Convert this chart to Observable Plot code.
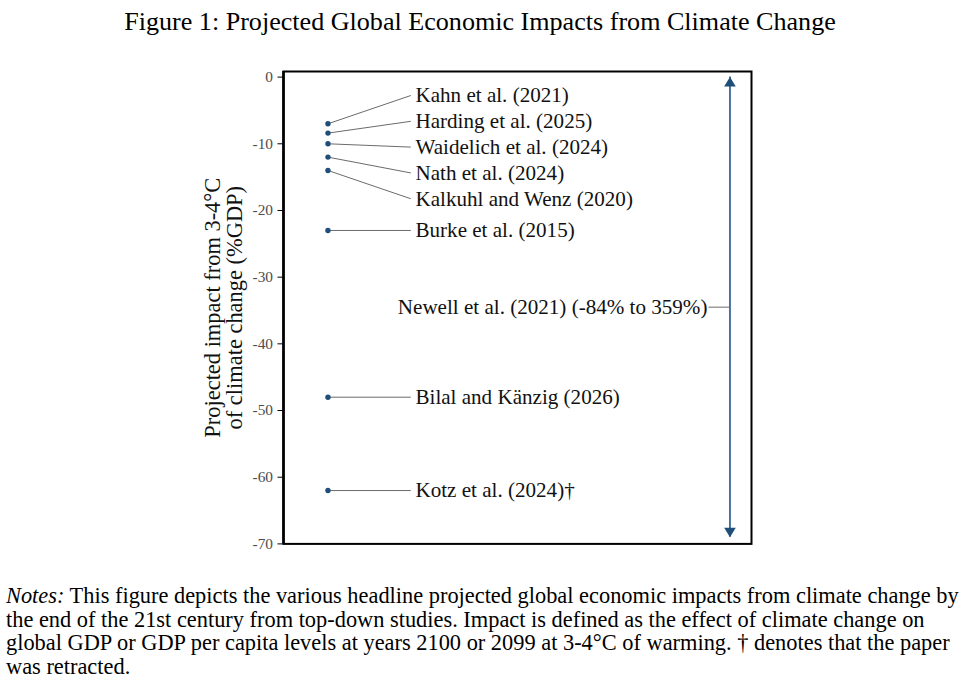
<!DOCTYPE html>
<html>
<head>
<meta charset="utf-8">
<script src="https://cdn.jsdelivr.net/npm/d3@7"></script>
<script src="https://cdn.jsdelivr.net/npm/@observablehq/plot@0.6"></script>
<style>
  html, body { margin: 0; padding: 0; background: #fff; }
  body { width: 960px; height: 691px; position: relative; overflow: hidden;
         font-family: "Liberation Serif", serif; color: #000; }
  #title { position: absolute; left: 0; width: 960px; top: 7px; line-height: 30px;
           text-align: center; white-space: nowrap; }
  #chart { position: absolute; left: 0; top: 50px; }
  #notes { position: absolute; left: 6px; top: 584px; line-height: 23.5px; white-space: nowrap; }
  #notes div { height: 23.5px; }
</style>
</head>
<body>
<div id="title"></div>
<div id="chart"></div>
<div id="notes"></div>
<script>
// ---- data ---------------------------------------------------------------
const titleText = "Figure 1: Projected Global Economic Impacts from Climate Change";

const studies = [
  "Kahn et al. (2021)",
  "Harding et al. (2025)",
  "Waidelich et al. (2024)",
  "Nath et al. (2024)",
  "Kalkuhl and Wenz (2020)",
  "Burke et al. (2015)",
  "Bilal and Känzig (2026)",
  "Kotz et al. (2024)†"
];
const impacts = [-7, -8.4, -10, -12, -14, -23, -48, -62];

const rangeStudy = "Newell et al. (2021)";
const rangeLow = -84;
const rangeHigh = 359;

const yTicks = [0, -10, -20, -30, -40, -50, -60, -70];
const yTitle = ["Projected impact from 3-4°C", "of climate change (%GDP)"];

const notesLead = "Notes:";
const notesLines = [
  " This figure depicts the various headline projected global economic impacts from climate change by",
  "the end of the 21st century from top-down studies. Impact is defined as the effect of climate change on",
  "global GDP or GDP per capita levels at years 2100 or 2099 at 3-4°C of warming. † denotes that the paper",
  "was retracted."
];

// ---- helpers ------------------------------------------------------------
const FONT = '"Liberation Serif", serif';
const measureCtx = document.createElement("canvas").getContext("2d");
function fitSize(text, targetWidth, style = "") {
  measureCtx.font = `${style} 100px "Liberation Serif"`;
  return targetWidth * 100 / measureCtx.measureText(text).width;
}

// font sizes chosen so the text occupies the intended widths
const titleSize = fitSize(titleText, 712);
const labelSize = fitSize("Kalkuhl and Wenz (2020)", 218);
const axisTitleSize = fitSize(yTitle[0], 260);
const tickSize = fitSize("-10", 20.5);
const notesSize = fitSize(notesLines[2], 946);

// simple label de-overlap: merge neighbouring labels into evenly spaced groups
function spreadLabels(values, gap) {
  const order = values.map((v, i) => i).sort((a, b) => values[b] - values[a]);
  let groups = order.map(i => ({members: [i]}));
  const center = g => {
    const vs = g.members.map(i => values[i]);
    return (Math.max(...vs) + Math.min(...vs)) / 2;
  };
  let merged = true;
  while (merged) {
    merged = false;
    for (let k = 0; k < groups.length - 1; k++) {
      const a = groups[k], b = groups[k + 1];
      const aLow = center(a) - (a.members.length - 1) / 2 * gap;
      const bHigh = center(b) + (b.members.length - 1) / 2 * gap;
      if (aLow - bHigh < gap) {
        groups.splice(k, 2, {members: a.members.concat(b.members)});
        merged = true;
        break;
      }
    }
  }
  const out = new Array(values.length);
  for (const g of groups) {
    const c = center(g), n = g.members.length;
    g.members.forEach((i, j) => { out[i] = c + ((n - 1) / 2 - j) * gap; });
  }
  return out;
}

// ---- layout in data units -----------------------------------------------
const Y_DOMAIN = [-70, 0.84];
const X_DOMAIN = [0, 10];
const X_POINT = 0.95;
const X_LINK_END = 2.72;
const X_LABEL = 2.82;
const X_ARROW = 9.54;
const X_RANGE_LINK = 9.08;
const LABEL_GAP = 3.87;

const labelY = spreadLabels(impacts, LABEL_GAP);
const rows = studies.map((s, i) => ({study: s, impact: impacts[i], labelY: labelY[i]}));

const arrowTop = Math.min(rangeHigh, 0);
const arrowBottom = Math.max(rangeLow, Y_DOMAIN[0] + 1);
const rangeRow = {
  label: `${rangeStudy} (${rangeLow}% to ${rangeHigh}%)`,
  top: arrowTop,
  bottom: arrowBottom,
  mid: (arrowTop + arrowBottom) / 2
};

// filled arrowheads with the tip at the anchor point
const headUp = {
  draw(context, size) {
    const k = Math.sqrt(size / Math.PI);
    context.moveTo(0, 0); context.lineTo(-1.35 * k, 2.2 * k); context.lineTo(1.35 * k, 2.2 * k); context.closePath();
  }
};
const headDown = {
  draw(context, size) {
    const k = Math.sqrt(size / Math.PI);
    context.moveTo(0, 0); context.lineTo(-1.35 * k, -2.2 * k); context.lineTo(1.35 * k, -2.2 * k); context.closePath();
  }
};

const BLUE = "#1f4e79";
const ARROW_BLUE = "#2d5f92";
const TEXT = "#111";
const TICK_TEXT = "#4d4d4d";

// ---- chart --------------------------------------------------------------
const chart = Plot.plot({
  width: 960,
  height: 520,
  marginLeft: 283,
  marginRight: 209,
  marginTop: 21,
  marginBottom: 26.6,
  style: {fontFamily: FONT, color: "#000", background: "transparent", overflow: "visible"},
  x: {domain: X_DOMAIN, axis: null},
  // tick marks come from the axis; their labels are drawn by a text mark below
  y: {domain: Y_DOMAIN, ticks: yTicks, tickFormat: () => "", tickSize: 5.5, label: null},
  marks: [
    Plot.frame({stroke: "#000", strokeWidth: 2}),
    Plot.ruleX([X_DOMAIN[0]], {stroke: "#000", strokeWidth: 2.6}),
    Plot.text(yTicks, {frameAnchor: "left", y: d => d, text: d => String(d), textAnchor: "end", dx: -10.5,
                       fontFamily: FONT, fontSize: tickSize, fill: TICK_TEXT}),
    Plot.link(rows, {x1: () => X_POINT, y1: "impact", x2: () => X_LINK_END, y2: "labelY", stroke: "#6b6b6b", strokeWidth: 1}),
    Plot.dot(rows, {x: () => X_POINT, y: "impact", r: 2.7, fill: BLUE, stroke: "none"}),
    Plot.text(rows, {x: () => X_LABEL, y: "labelY", text: "study", textAnchor: "start",
                     fontFamily: FONT, fontSize: labelSize, fill: TEXT}),
    Plot.ruleX([rangeRow], {x: () => X_ARROW, y1: "top", y2: "bottom", stroke: ARROW_BLUE, strokeWidth: 1.7}),
    Plot.dot([rangeRow], {x: () => X_ARROW, y: "top", symbol: headUp, r: 4.3, fill: BLUE, stroke: "none"}),
    Plot.dot([rangeRow], {x: () => X_ARROW, y: "bottom", symbol: headDown, r: 4.3, fill: BLUE, stroke: "none"}),
    Plot.link([rangeRow], {x1: () => X_RANGE_LINK, y1: "mid", x2: () => X_ARROW, y2: "mid", stroke: "#6b6b6b", strokeWidth: 1}),
    Plot.text([rangeRow], {x: () => X_RANGE_LINK, y: "mid", text: "label", textAnchor: "end", dx: -1,
                           fontFamily: FONT, fontSize: labelSize, fill: TEXT}),
    Plot.text([yTitle.join("\n")], {frameAnchor: "left", textAnchor: "middle", dx: -60, rotate: -90, text: d => d,
                                    fontFamily: FONT, fontSize: axisTitleSize, lineHeight: 0.98, fill: TEXT})
  ]
});

document.getElementById("chart").appendChild(chart);

// ---- title and notes ----------------------------------------------------
const title = document.getElementById("title");
title.textContent = titleText;
title.style.fontSize = `${titleSize}px`;

const notes = document.getElementById("notes");
notes.style.fontSize = `${notesSize}px`;
notesLines.forEach((line, i) => {
  const div = document.createElement("div");
  if (i === 0) {
    const em = document.createElement("i");
    em.textContent = notesLead;
    div.appendChild(em);
  }
  div.appendChild(document.createTextNode(line));
  notes.appendChild(div);
});
</script>
</body>
</html>
